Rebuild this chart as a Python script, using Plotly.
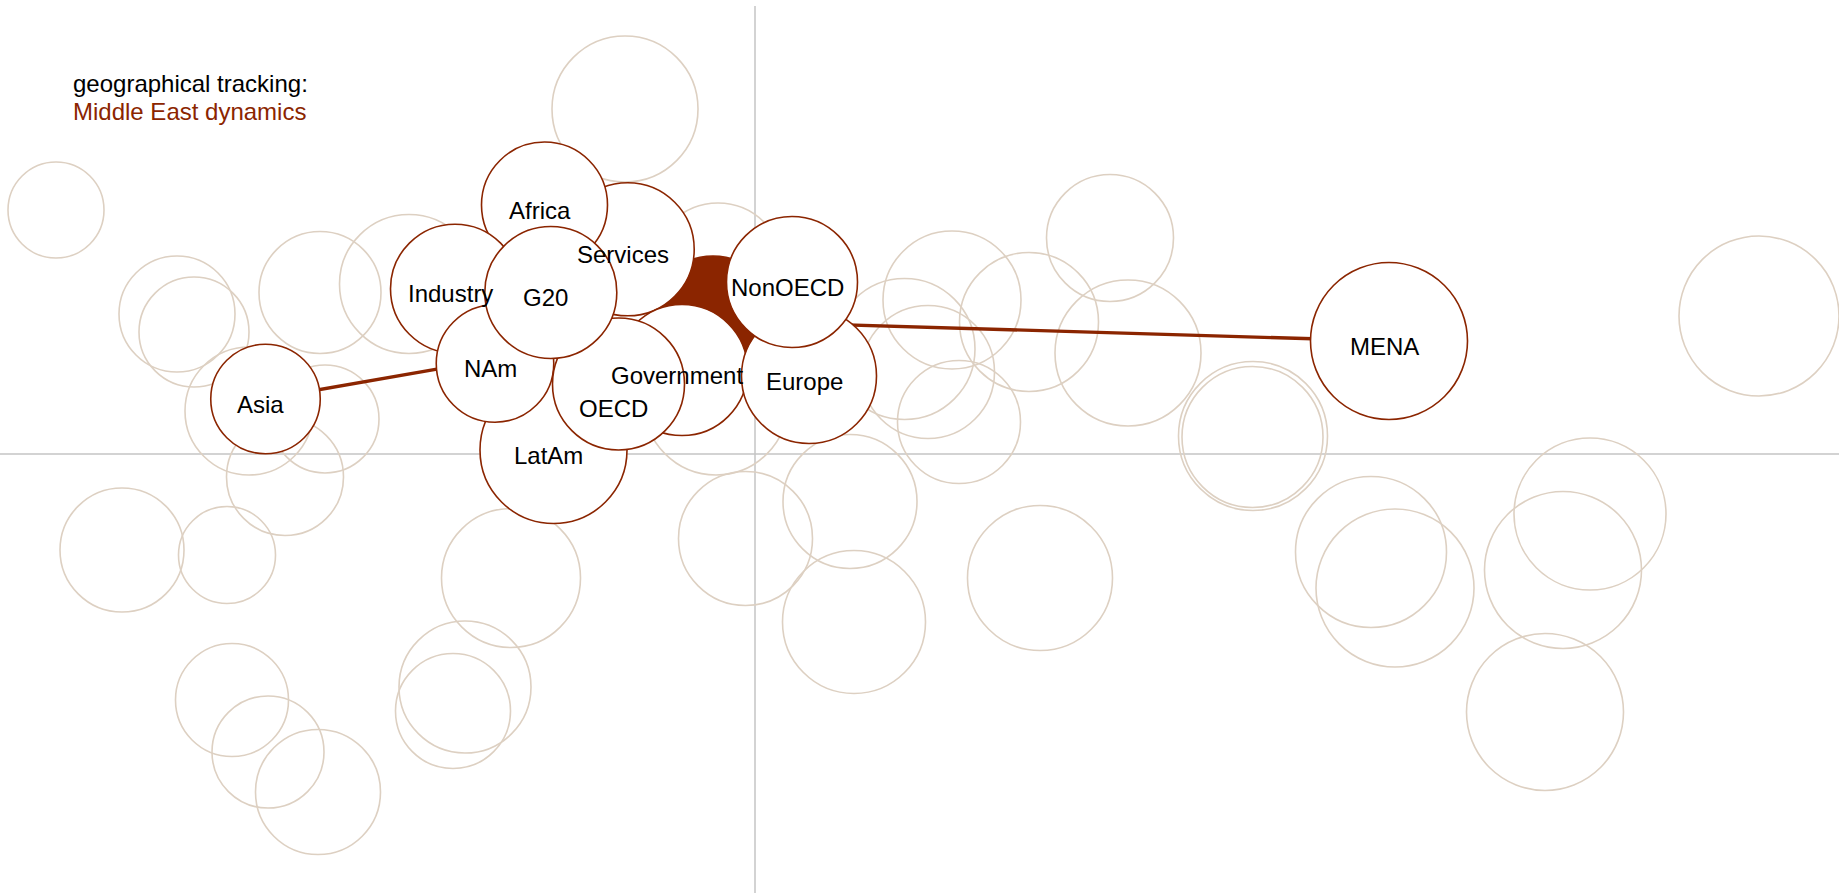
import plotly.graph_objects as go

# ---------------- data ----------------
# highlighted nodes (drawn in this order, later ones on top)
hl_names = ["Services", "Africa", "Industry", "LatAm", "NAm", "Government",
            "Europe", "NonOECD", "OECD", "G20", "Asia", "MENA"]
hl_x = [-1.273, -2.105, -3.00, -2.015, -2.60, -0.73, 0.54, 0.37, -1.365, -2.042, -4.895, 6.34]
hl_y = [2.047, 2.49, 1.653, 0.04, 0.905, 0.84, 0.78, 1.72, 0.70, 1.615, 0.55, 1.13]
hl_weight = [1.33, 1.26, 1.29, 1.47, 1.175, 1.31, 1.35, 1.31, 1.32, 1.32, 1.095, 1.57]

# focus node: Middle East dynamics
hub_name = "Middle East dynamics"
hub_x = [-0.42]
hub_y = [1.33]
hub_weight = [1.30]
linked_nodes = ["MENA", "Asia"]

# background (faded) nodes
bg_x = [-6.99, -1.30, -5.78, -5.61, -4.35, -3.46, -5.06, -4.30, -4.70, -6.33,
        -5.28, -2.44, -2.90, -3.02, -5.23, -4.87, -4.37, -0.37, -0.39, -0.095,
        0.95, 0.99, 2.04, 2.85, 1.97, 2.74, 1.495, 1.73, 3.55, 3.73,
        4.98, 4.975, 6.16, 6.40, 8.35, 8.08, 7.90, 10.04]
bg_y = [2.44, 3.45, 1.40, 1.22, 1.615, 1.70, 0.43, 0.35, -0.23, -0.96,
        -1.01, -1.24, -2.33, -2.57, -2.46, -2.98, -3.38, 1.86, 0.51, -0.845,
        -0.475, -1.68, 0.32, -1.24, 1.54, 1.32, 1.05, 0.82, 2.16, 1.01,
        0.18, 0.17, -0.98, -1.34, -0.60, -1.16, -2.58, 1.38]
bg_weight = [0.96, 1.46, 1.16, 1.10, 1.22, 1.39, 1.28, 1.08, 1.17, 1.24,
             0.97, 1.39, 1.32, 1.15, 1.13, 1.12, 1.25, 1.30, 1.44, 1.34,
             1.34, 1.43, 1.23, 1.45, 1.38, 1.39, 1.41, 1.33, 1.27, 1.46,
             1.49, 1.41, 1.51, 1.58, 1.52, 1.57, 1.57, 1.60]

title_line1 = "geographical tracking:"
title_line2 = "Middle East dynamics"

# ---------------- style ----------------
DARK = "rgb(139,37,0)"
BEIGE = "rgb(221,208,194)"
AXIS = "rgb(196,196,196)"
FONT = "Liberation Sans, Arial, sans-serif"
PX = 100.0  # pixels per unit / per weight

FW, FH = 1839, 893
x0 = -7.55
y1 = 4.54

fig = go.Figure()

fig.add_trace(go.Scatter(
    x=bg_x, y=bg_y, mode="markers",
    marker=dict(size=[w * PX for w in bg_weight], sizemode="diameter", opacity=1,
                color="rgba(0,0,0,0)", line=dict(color=BEIGE, width=1.6)),
    hoverinfo="skip", showlegend=False))

for name in linked_nodes:
    i = hl_names.index(name)
    fig.add_trace(go.Scatter(
        x=[hub_x[0], hl_x[i]], y=[hub_y[0], hl_y[i]], mode="lines",
        line=dict(color=DARK, width=3.3), hoverinfo="skip", showlegend=False))

fig.add_trace(go.Scatter(
    x=hub_x, y=hub_y, mode="markers",
    marker=dict(size=[w * PX for w in hub_weight], sizemode="diameter", opacity=1,
                color=DARK, line=dict(color=DARK, width=1.5)),
    hoverinfo="skip", showlegend=False))

fig.add_trace(go.Scatter(
    x=hl_x, y=hl_y, mode="markers",
    marker=dict(size=[w * PX for w in hl_weight], sizemode="diameter", opacity=1,
                color="white", line=dict(color=DARK, width=1.6)),
    hoverinfo="skip", showlegend=False))

label_shift = {"OECD": -24}
annotations = []
for n, x, y in zip(hl_names, hl_x, hl_y):
    annotations.append(dict(
        x=x, y=y, xref="x", yref="y", text=n, showarrow=False,
        xanchor="center", yanchor="middle", xshift=-5,
        yshift=label_shift.get(n, -5),
        font=dict(family=FONT, size=24, color="black")))

annotations.append(dict(
    x=71 / FW, y=1 - 84 / FH, xref="paper", yref="paper",
    text=title_line1, showarrow=False, xanchor="left", yanchor="middle",
    font=dict(family=FONT, size=24, color="black")))
annotations.append(dict(
    x=71 / FW, y=1 - 111.5 / FH, xref="paper", yref="paper",
    text=title_line2, showarrow=False, xanchor="left", yanchor="middle",
    font=dict(family=FONT, size=24, color=DARK)))

shapes = [
    dict(type="line", layer="below", xref="x", yref="paper",
         x0=0, x1=0, y0=0, y1=1 - 6 / FH, line=dict(color=AXIS, width=1.5)),
    dict(type="line", layer="below", xref="paper", yref="y",
         x0=0, x1=1, y0=0, y1=0, line=dict(color=AXIS, width=1.5)),
]

fig.update_layout(
    width=FW, height=FH,
    margin=dict(l=0, r=0, t=0, b=0),
    paper_bgcolor="white", plot_bgcolor="white",
    hovermode=False, showlegend=False,
    annotations=annotations, shapes=shapes,
    xaxis=dict(range=[x0, x0 + FW / PX], showgrid=False, showticklabels=False,
               ticks="", zeroline=False, fixedrange=True),
    yaxis=dict(range=[y1 - FH / PX, y1], showgrid=False, showticklabels=False,
               ticks="", zeroline=False, fixedrange=True),
)

fig.write_html(
    "out.html",
    config={"displayModeBar": False},
    post_script="document.body.style.margin='0px';document.body.style.overflow='hidden';",
)
